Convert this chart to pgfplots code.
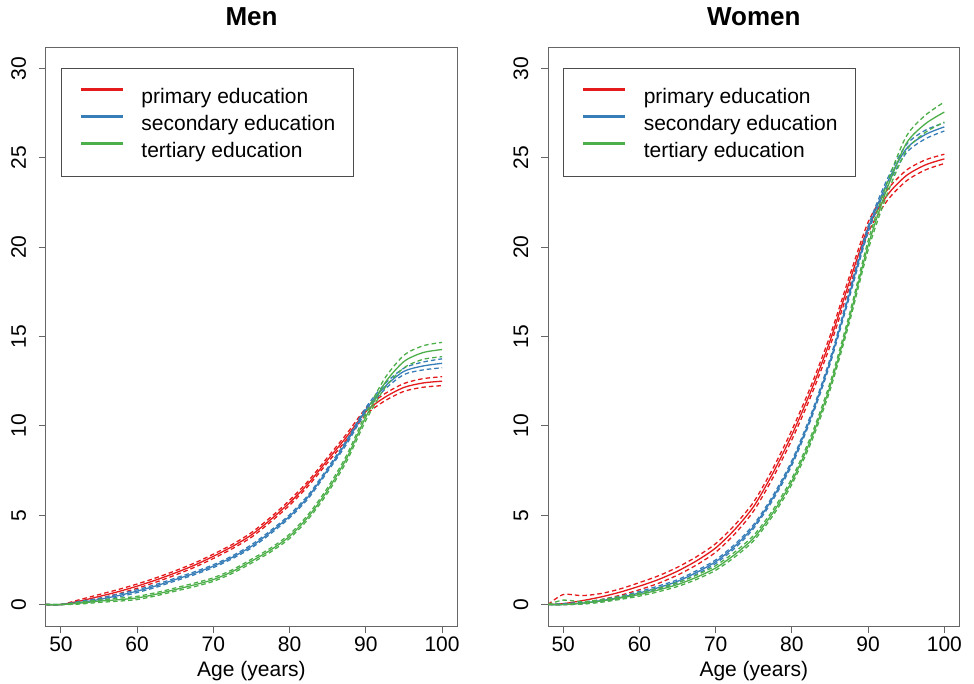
\documentclass[border=0pt]{standalone}
\usepackage{fontspec}
\setmainfont{Liberation Sans}
\usepackage{pgfplots}
\usepackage{pgfplotstable}
\pgfplotsset{compat=1.18}
\definecolor{cR}{HTML}{E41A1C}
\definecolor{cB}{HTML}{377EB8}
\definecolor{cG}{HTML}{4DAF4A}

\pgfplotstableread{
age r rl ru b bl bu g gl gu
48 0 0 0 0 0 0 0 0 0
50 0 0 0 0 0 0 0 0 0
52.5 0.20 0.12 0.28 0.12 0.06 0.18 0.08 0.03 0.13
55 0.45 0.34 0.56 0.28 0.21 0.35 0.19 0.12 0.26
57.5 0.72 0.60 0.84 0.50 0.42 0.58 0.27 0.19 0.35
60 1.03 0.91 1.15 0.75 0.67 0.83 0.37 0.28 0.46
62.5 1.38 1.26 1.50 1.05 0.97 1.13 0.58 0.49 0.67
65 1.77 1.65 1.89 1.40 1.32 1.48 0.84 0.75 0.93
67.5 2.20 2.08 2.32 1.75 1.67 1.83 1.10 1.00 1.20
70 2.70 2.58 2.82 2.15 2.07 2.23 1.40 1.30 1.50
72.5 3.25 3.13 3.37 2.65 2.57 2.73 1.85 1.75 1.95
75 3.90 3.77 4.03 3.26 3.17 3.35 2.43 2.32 2.54
77.5 4.75 4.62 4.88 4.05 3.96 4.14 3.05 2.94 3.16
80 5.70 5.56 5.84 4.94 4.85 5.03 3.82 3.70 3.94
82.5 6.80 6.66 6.94 6.06 5.96 6.16 4.94 4.81 5.07
85 8.10 7.95 8.25 7.55 7.45 7.65 6.40 6.25 6.55
87.5 9.40 9.24 9.56 9.10 8.99 9.21 8.20 8.03 8.37
90 10.80 10.62 10.98 10.90 10.78 11.02 10.50 10.30 10.70
92.5 11.60 11.40 11.80 12.20 12.05 12.35 12.40 12.13 12.67
95 12.15 11.93 12.37 13.05 12.87 13.23 13.60 13.25 13.95
97.5 12.40 12.16 12.64 13.35 13.13 13.57 14.10 13.72 14.48
100 12.50 12.25 12.75 13.50 13.25 13.75 14.27 13.87 14.67
}\men

\pgfplotstableread{
age r rl ru b bl bu g gl gu
48 0 0 0 0 0 0 0 0 0
50 0.05 0.00 0.56 0.00 0.00 0.05 0.00 0.00 0.25
52.5 0.22 0.05 0.50 0.08 0.03 0.13 0.08 0.03 0.16
55 0.43 0.28 0.62 0.22 0.16 0.28 0.20 0.13 0.27
57.5 0.70 0.52 0.88 0.40 0.33 0.47 0.37 0.29 0.45
60 1.03 0.83 1.23 0.65 0.57 0.73 0.56 0.47 0.65
62.5 1.40 1.19 1.61 0.95 0.86 1.04 0.82 0.72 0.92
65 1.87 1.65 2.09 1.30 1.21 1.39 1.12 1.01 1.23
67.5 2.45 2.22 2.68 1.80 1.70 1.90 1.53 1.41 1.65
70 3.17 2.93 3.41 2.40 2.30 2.50 2.05 1.92 2.18
72.5 4.20 3.95 4.45 3.26 3.15 3.37 2.80 2.66 2.94
75 5.50 5.25 5.75 4.38 4.27 4.49 3.73 3.58 3.88
77.5 7.35 7.09 7.61 5.97 5.85 6.09 5.13 4.97 5.29
80 9.50 9.23 9.77 7.93 7.80 8.06 6.90 6.73 7.07
82.5 11.95 11.67 12.23 10.50 10.36 10.64 9.24 9.05 9.43
85 14.75 14.46 15.04 13.60 13.45 13.75 12.20 11.99 12.41
87.5 18.00 17.70 18.30 17.30 17.14 17.46 15.95 15.72 16.18
90 21.10 20.80 21.40 21.00 20.83 21.17 20.10 19.84 20.36
92.5 22.90 22.60 23.20 23.60 23.40 23.80 23.30 22.98 23.62
95 24.00 23.70 24.30 25.50 25.27 25.73 25.80 25.40 26.20
97.5 24.60 24.32 24.88 26.30 26.06 26.54 26.90 26.42 27.38
100 24.94 24.68 25.20 26.73 26.50 26.96 27.56 27.00 28.12
}\women

\pgfplotsset{
  panel/.style={
    scale only axis, width=411.6pt, height=579pt,
    anchor=south west,
    xmin=48, xmax=102, ymin=-1.2, ymax=31.2,
    xtick={50,60,...,100}, ytick={0,5,...,30},
    xtick pos=left, ytick pos=left,
    tick align=outside, major tick length=7pt,
    every tick/.style={black!60, line width=0.9pt},
    axis line style={black!60, line width=0.9pt},
    tick label style={font=\fontsize{21}{21}\selectfont},
    /pgf/number format/assume math mode=true,
    yticklabel style={rotate=90, anchor=south, inner ysep=12.5pt},
    xlabel={Age (years)},
    xlabel style={font=\fontsize{21}{21}\selectfont, yshift=-3pt},
    title style={font=\fontsize{26}{26}\selectfont\bfseries, at={(0.5,1)}, anchor=base, yshift=15.7pt},
    legend cell align=left,
    legend image code/.code={\draw[##1, line width=3pt, solid] (0pt,6pt) -- (42pt,6pt);},
    legend style={at={(0.0372,0.963)}, anchor=north west, draw=black!70, line width=0.9pt,
      font=\fontsize{21}{21}\selectfont, inner xsep=18pt, inner ysep=16.3pt, row sep=6pt,
      column sep=17pt, nodes={inner sep=0pt, text height=18pt, text depth=3pt}},
    solidl/.style={line width=1.3pt, smooth, tension=0.45},
    dashl/.style={line width=1.3pt, smooth, tension=0.45, dash pattern=on 4.5pt off 3pt, forget plot},
  }
}

\begin{document}
\begin{tikzpicture}
\useasboundingbox (0,0) rectangle (974pt,683pt);
\begin{axis}[panel, at={(45.7pt,57pt)}, title={Men}]
\addplot[cR, solidl] table[x=age,y=r]{\men};
\addplot[cR, dashl] table[x=age,y=rl]{\men};
\addplot[cR, dashl] table[x=age,y=ru]{\men};
\addplot[cB, solidl] table[x=age,y=b]{\men};
\addplot[cB, dashl] table[x=age,y=bl]{\men};
\addplot[cB, dashl] table[x=age,y=bu]{\men};
\addplot[cG, solidl] table[x=age,y=g]{\men};
\addplot[cG, dashl] table[x=age,y=gl]{\men};
\addplot[cG, dashl] table[x=age,y=gu]{\men};
\legend{primary education, secondary education, tertiary education}
\end{axis}
\begin{axis}[panel, at={(548pt,57pt)}, title={Women}]
\addplot[cR, solidl] table[x=age,y=r]{\women};
\addplot[cR, dashl] table[x=age,y=rl]{\women};
\addplot[cR, dashl] table[x=age,y=ru]{\women};
\addplot[cB, solidl] table[x=age,y=b]{\women};
\addplot[cB, dashl] table[x=age,y=bl]{\women};
\addplot[cB, dashl] table[x=age,y=bu]{\women};
\addplot[cG, solidl] table[x=age,y=g]{\women};
\addplot[cG, dashl] table[x=age,y=gl]{\women};
\addplot[cG, dashl] table[x=age,y=gu]{\women};
\legend{primary education, secondary education, tertiary education}
\end{axis}
\end{tikzpicture}
\end{document}
